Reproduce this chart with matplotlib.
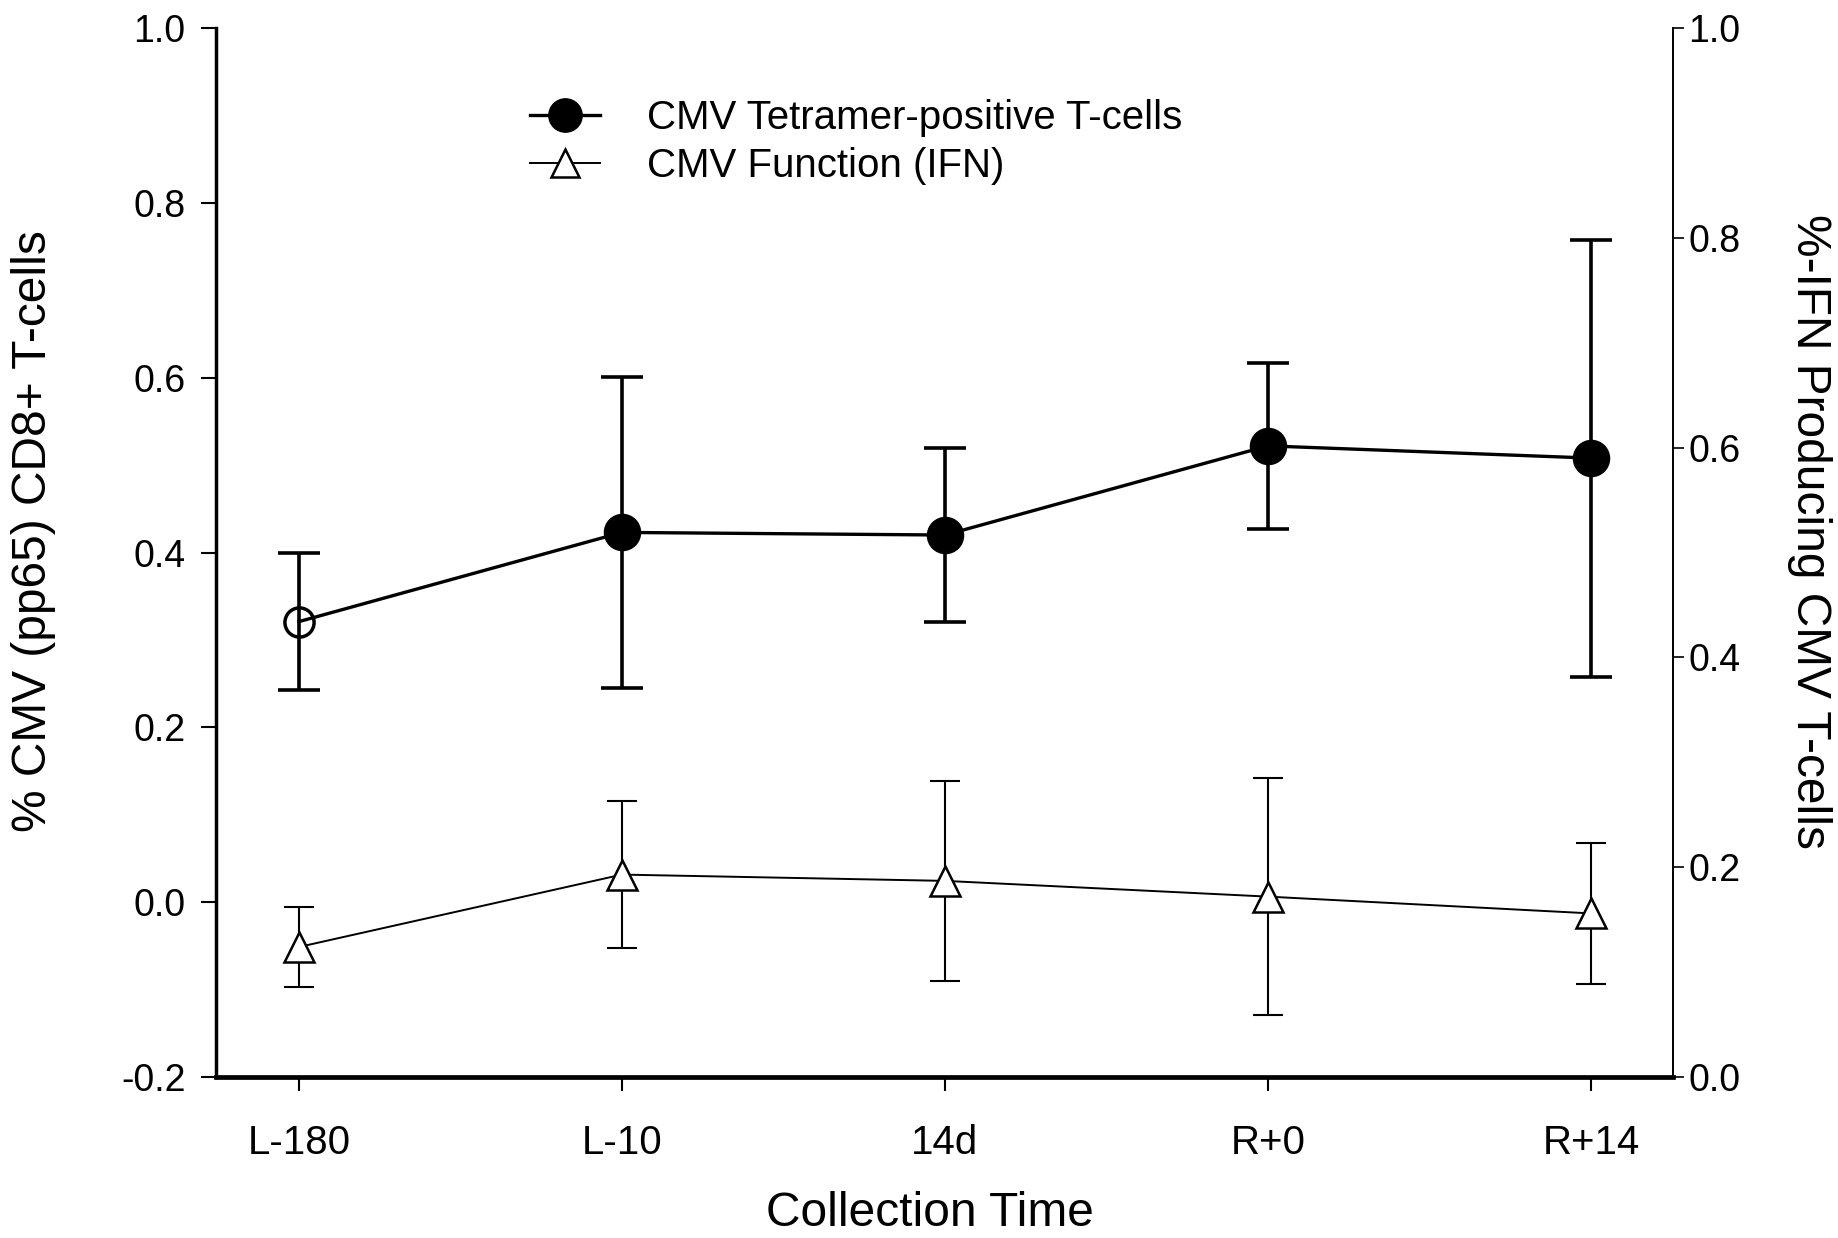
import matplotlib
matplotlib.use("Agg")
import matplotlib.pyplot as plt
from matplotlib.lines import Line2D
import numpy as np

plt.rcParams['font.family'] = ['Liberation Sans', 'DejaVu Sans']
plt.rcParams['axes.unicode_minus'] = False

# collection times
times = ["L-180", "L-10", "14d", "R+0", "R+14"]
# CMV tetramer-positive T-cells, % of CD8+ (left axis)
tet_mean = [0.321, 0.423, 0.420, 0.522, 0.508]
tet_err = [0.078, 0.178, 0.100, 0.095, 0.250]
# IFN producing CMV T-cells, % (right axis)
ifn_mean = [0.124, 0.193, 0.187, 0.172, 0.156]
ifn_err = [0.038, 0.070, 0.095, 0.113, 0.067]

x = np.arange(len(times))

fig = plt.figure(figsize=(18.38, 12.38), dpi=100)
ax = fig.add_axes([0.1175, 0.130, 0.7927, 0.8474])
ax2 = ax.twinx()

# tetramer series
ax.errorbar(x, tet_mean, yerr=tet_err, fmt='none', ecolor='black',
            elinewidth=2.6, capsize=15, capthick=2.6, zorder=2)
ax.plot(x, tet_mean, color='black', lw=2.4, zorder=3)
ax.plot(x[1:], tet_mean[1:], 'o', color='black', ms=26, zorder=4)
ax.plot(x[:1], tet_mean[:1], 'o', mfc='none', mec='black', mew=2.5, ms=21, zorder=4)

# IFN series
ax2.errorbar(x, ifn_mean, yerr=ifn_err, fmt='none', ecolor='black',
             elinewidth=1.5, capsize=11, capthick=1.5, zorder=2)
ax2.plot(x, ifn_mean, color='black', lw=1.4, marker='^', mfc='white',
         mec='black', mew=1.8, ms=21, zorder=3)

ax.set_xlim(-0.257, 4.254)
ax.set_ylim(-0.2, 1.0)
ax2.set_ylim(0.0, 1.0)
ax.set_xticks(x)
ax.set_xticklabels(times)
ax.set_yticks(np.arange(-0.2, 1.01, 0.2))
ax.set_yticklabels(["%.1f" % v for v in np.arange(-0.2, 1.01, 0.2)])
ax2.set_yticks(np.arange(0, 1.01, 0.2))
ax2.set_yticklabels(["%.1f" % v for v in np.arange(0, 1.01, 0.2)])

for s in ['top', 'right']:
    ax.spines[s].set_visible(False)
for s in ['top', 'left', 'bottom']:
    ax2.spines[s].set_visible(False)
ax.spines['left'].set_linewidth(2.5)
ax.spines['bottom'].set_linewidth(3.4)
ax2.spines['right'].set_linewidth(1.4)

ax.tick_params(axis='y', direction='out', length=11, width=1.5, pad=11, labelsize=27)
ax.tick_params(axis='x', direction='out', length=10, width=1.5, pad=24, labelsize=29)
ax2.tick_params(axis='y', direction='out', length=8, width=1.2, pad=3, labelsize=27)

ax.set_xlabel("Collection Time", fontsize=34.5, va='center')
ax.xaxis.set_label_coords(0.49, -0.13)
ax.set_ylabel("% CMV (pp65) CD8+ T-cells", fontsize=34.5, va='center')
ax.yaxis.set_label_coords(-0.125, 0.52)
ax2.set_ylabel("%-IFN Producing CMV T-cells", fontsize=34.5, rotation=270, va='center')
ax2.yaxis.set_label_coords(1.094, 0.52)

handles = [Line2D([], [], color='black', lw=2.4, marker='o', ms=24),
           Line2D([], [], color='black', lw=1.4, marker='^', mfc='white',
                  mec='black', mew=1.8, ms=20)]
labels = ["CMV Tetramer-positive T-cells", "CMV Function (IFN)"]
ax2.legend(handles, labels, loc='upper left', bbox_to_anchor=(0.2155, 0.932),
           frameon=False, fontsize=29, borderpad=0, borderaxespad=0,
           handlelength=1.75, handletextpad=1.15, labelspacing=0.25)

fig.savefig("out.png", dpi=100)
